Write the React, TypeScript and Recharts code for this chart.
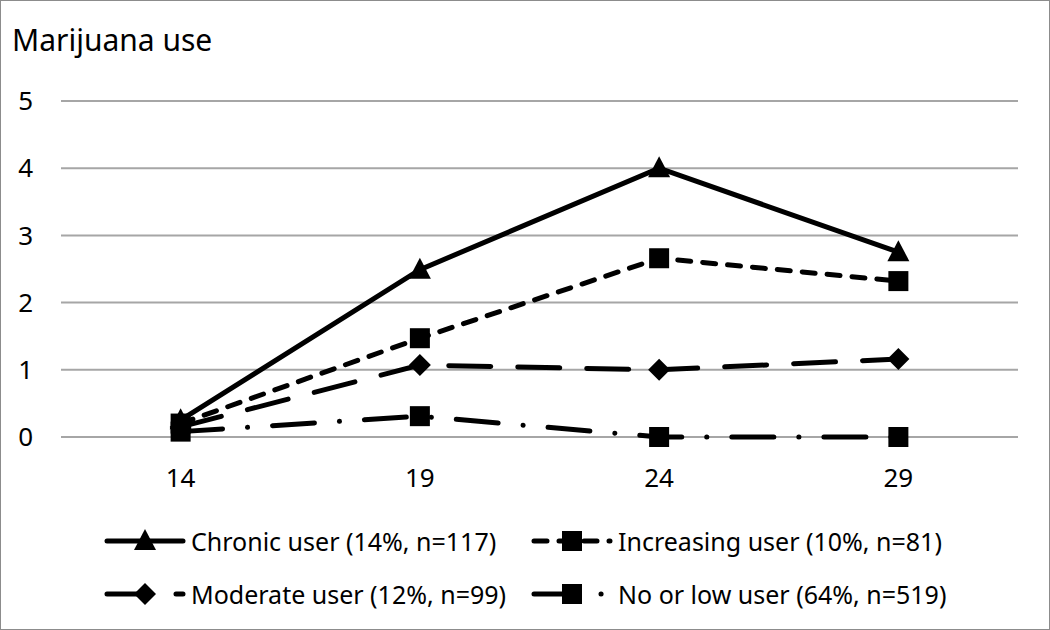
import { LineChart, Line, XAxis, YAxis, CartesianGrid } from 'recharts';

const ages = ['14', '19', '24', '29'];
const chronic = [0.25, 2.49, 4.0, 2.75];
const increasing = [0.2, 1.47, 2.66, 2.32];
const moderate = [0.15, 1.07, 1.0, 1.16];
const noOrLow = [0.08, 0.31, 0, 0];
const yTicks = [0, 1, 2, 3, 4, 5];

const seriesNames = [
  'Chronic user (14%, n=117)',
  'Increasing user (10%, n=81)',
  'Moderate user (12%, n=99)',
  'No or low user (64%, n=519)',
];

const data = ages.map((age, i) => ({
  age,
  chronic: chronic[i],
  increasing: increasing[i],
  moderate: moderate[i],
  noOrLow: noOrLow[i],
}));

const FONT = '"Noto Sans", sans-serif';
const GRID = '#a6a6a6';

type Shape = 'triangle' | 'square' | 'diamond';

const series: { key: string; name: string; dash?: string; shape: Shape }[] = [
  { key: 'chronic', name: seriesNames[0], shape: 'triangle' },
  { key: 'increasing', name: seriesNames[1], dash: '13 12', shape: 'square' },
  { key: 'moderate', name: seriesNames[2], dash: '42 27', shape: 'diamond' },
  { key: 'noOrLow', name: seriesNames[3], dash: '42 25 0.1 25', shape: 'square' },
];

function marker(shape: Shape, cx: number, cy: number, key?: string) {
  if (shape === 'triangle') {
    return <polygon key={key} points={`${cx},${cy - 12} ${cx + 11},${cy + 9} ${cx - 11},${cy + 9}`} fill="#000" />;
  }
  if (shape === 'diamond') {
    return <polygon key={key} points={`${cx},${cy - 11} ${cx + 11},${cy} ${cx},${cy + 11} ${cx - 11},${cy}`} fill="#000" />;
  }
  return <rect key={key} x={cx - 10} y={cy - 10} width={20} height={20} fill="#000" />;
}

function LegendItem({ s, left, top }: { s: (typeof series)[number]; left: number; top: number }) {
  return (
    <div style={{ position: 'absolute', left, top, display: 'flex', alignItems: 'center', whiteSpace: 'nowrap' }}>
      <svg width={82} height={26}>
        <line x1={3} y1={13} x2={79} y2={13} stroke="#000" strokeWidth={5} strokeLinecap="round" strokeDasharray={s.dash} />
        {marker(s.shape, 41, 13)}
      </svg>
      <span style={{ marginLeft: 5, fontFamily: FONT, fontSize: 25, color: '#000' }}>{s.name}</span>
    </div>
  );
}

export default function App() {
  return (
    <div style={{ position: 'absolute', left: 0, top: 0, width: 1050, height: 630, background: '#fff' }}>
      <div style={{ position: 'absolute', left: 12, top: 22, fontFamily: FONT, fontSize: 30, color: '#000', lineHeight: 1.2 }}>
        Marijuana use
      </div>
      <LineChart width={1050} height={630} data={data} margin={{ top: 101, right: 32, bottom: 133, left: 0 }}>
        <CartesianGrid vertical={false} stroke={GRID} strokeWidth={2} />
        <XAxis
          dataKey="age"
          scale="band"
          height={60}
          tickLine={false}
          tickSize={0}
          tickMargin={32}
          axisLine={false}
          tick={{ fill: '#000', fontSize: 26, fontFamily: FONT }}
        />
        <YAxis
          width={61}
          domain={[0, 5]}
          ticks={yTicks}
          axisLine={false}
          tickLine={false}
          tickSize={0}
          tickMargin={28}
          tick={{ fill: '#000', fontSize: 26, fontFamily: FONT }}
        />
        {series.map((s) => (
          <Line
            key={s.key}
            dataKey={s.key}
            name={s.name}
            type="linear"
            stroke="#000"
            strokeWidth={5}
            strokeLinecap="round"
            strokeDasharray={s.dash}
            isAnimationActive={false}
            activeDot={false}
            dot={(p: any) => marker(s.shape, p.cx, p.cy, `${s.key}-${p.index}`)}
          />
        ))}
      </LineChart>
      <LegendItem s={series[0]} left={104} top={524} />
      <LegendItem s={series[1]} left={531} top={524} />
      <LegendItem s={series[2]} left={104} top={577} />
      <LegendItem s={series[3]} left={531} top={577} />
      <div style={{ position: 'absolute', inset: 0, border: '1px solid #8c8c8c', pointerEvents: 'none' }} />
    </div>
  );
}
